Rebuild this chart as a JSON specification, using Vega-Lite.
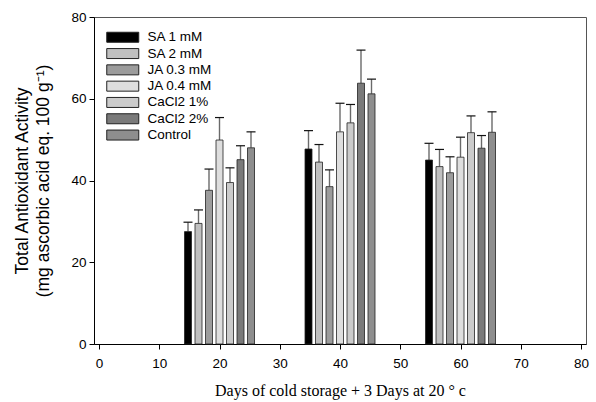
{
  "$schema": "https://vega.github.io/schema/vega-lite/v6.json",
  "width": 492,
  "height": 327,
  "autosize": "none",
  "padding": {"left": 94, "top": 17, "right": 10, "bottom": 58},
  "background": "white",
  "config": {
    "view": {"stroke": "#555", "strokeWidth": 1},
    "font": "Liberation Sans",
    "axis": {
      "grid": false,
      "domainColor": "#000",
      "tickColor": "#000",
      "tickSize": 5,
      "labelFont": "Liberation Sans",
      "labelFontSize": 13.5,
      "labelColor": "#000",
      "titleColor": "#000",
      "titleFontWeight": "normal"
    }
  },
  "data": {
    "values": [
      {"day": 20, "treatment": "SA 1 mM", "value": 27.5, "upper": 29.8},
      {"day": 20, "treatment": "SA 2 mM", "value": 29.5, "upper": 32.8},
      {"day": 20, "treatment": "JA 0.3 mM", "value": 37.6, "upper": 42.8},
      {"day": 20, "treatment": "JA 0.4 mM", "value": 49.9, "upper": 55.4},
      {"day": 20, "treatment": "CaCl2 1%", "value": 39.5, "upper": 43.1},
      {"day": 20, "treatment": "CaCl2 2%", "value": 45.1, "upper": 48.5},
      {"day": 20, "treatment": "Control", "value": 48.0, "upper": 51.9},
      {"day": 40, "treatment": "SA 1 mM", "value": 47.7, "upper": 52.2},
      {"day": 40, "treatment": "SA 2 mM", "value": 44.5, "upper": 48.8},
      {"day": 40, "treatment": "JA 0.3 mM", "value": 38.5, "upper": 42.6},
      {"day": 40, "treatment": "JA 0.4 mM", "value": 51.9, "upper": 58.9},
      {"day": 40, "treatment": "CaCl2 1%", "value": 54.1, "upper": 58.6},
      {"day": 40, "treatment": "CaCl2 2%", "value": 63.8, "upper": 71.9},
      {"day": 40, "treatment": "Control", "value": 61.2, "upper": 64.8},
      {"day": 60, "treatment": "SA 1 mM", "value": 45.0, "upper": 49.1},
      {"day": 60, "treatment": "SA 2 mM", "value": 43.4, "upper": 47.6},
      {"day": 60, "treatment": "JA 0.3 mM", "value": 41.9, "upper": 45.8},
      {"day": 60, "treatment": "JA 0.4 mM", "value": 45.7, "upper": 50.6},
      {"day": 60, "treatment": "CaCl2 1%", "value": 51.7, "upper": 55.8},
      {"day": 60, "treatment": "CaCl2 2%", "value": 47.9, "upper": 51.0},
      {"day": 60, "treatment": "Control", "value": 51.8, "upper": 56.8}
    ]
  },
  "encoding": {
    "x": {
      "field": "day",
      "type": "quantitative",
      "scale": {"domain": [0, 80], "nice": false},
      "axis": {
        "values": [0, 10, 20, 30, 40, 50, 60, 70, 80],
        "title": "Days of cold storage + 3 Days at 20 ° c",
        "titleFont": "Liberation Serif",
        "titleFontSize": 16,
        "titlePadding": 13,
        "labelPadding": 7
      }
    },
    "y": {
      "field": "value",
      "type": "quantitative",
      "scale": {"domain": [0, 80], "nice": false},
      "axis": {
        "values": [0, 20, 40, 60, 80],
        "title": ["Total Antioxidant Activity", "(mg ascorbic acid eq. 100 g⁻¹)"],
        "titleFont": "Liberation Sans",
        "titleFontSize": 17.5,
        "titlePadding": 18,
        "titleLineHeight": 21,
        "labelPadding": 3
      }
    },
    "fill": {
      "field": "treatment",
      "type": "nominal",
      "scale": {
        "domain": ["SA 1 mM", "SA 2 mM", "JA 0.3 mM", "JA 0.4 mM", "CaCl2 1%", "CaCl2 2%", "Control"],
        "range": ["#000000", "#c0c0c0", "#9c9c9c", "#dedede", "#cbcbcb", "#7a7a7a", "#8e8e8e"]
      },
      "legend": {
        "title": null,
        "orient": "none",
        "legendX": 22,
        "legendY": 13.5,
        "symbolType": "M-3.2,-1H3.2V1H-3.2Z",
        "symbolSize": 100,
        "symbolStrokeColor": "#222",
        "symbolStrokeWidth": 1,
        "symbolOpacity": 1,
        "labelFont": "Liberation Sans",
        "labelFontSize": 13.5,
        "labelColor": "#000",
        "labelOffset": 18,
        "rowPadding": 1.3
      }
    }
  },
  "layer": [
    {
      "transform": [{"filter": "datum.treatment === 'SA 1 mM'"}],
      "layer": [
        {"mark": {"type": "rule", "xOffset": -31.5, "stroke": "#6a6a6a", "strokeWidth": 1.4}, "encoding": {"y2": {"field": "upper"}}},
        {"mark": {"type": "tick", "xOffset": -31.5, "orient": "horizontal", "size": 9, "thickness": 1.2, "opacity": 1}, "encoding": {"y": {"field": "upper", "type": "quantitative"}, "fill": {"value": "#111"}}},
        {"mark": {"type": "bar", "xOffset": -31.5, "width": 7, "stroke": "#222", "strokeWidth": 0.8}}
      ]
    },
    {
      "transform": [{"filter": "datum.treatment === 'SA 2 mM'"}],
      "layer": [
        {"mark": {"type": "rule", "xOffset": -21, "stroke": "#6a6a6a", "strokeWidth": 1.4}, "encoding": {"y2": {"field": "upper"}}},
        {"mark": {"type": "tick", "xOffset": -21, "orient": "horizontal", "size": 9, "thickness": 1.2, "opacity": 1}, "encoding": {"y": {"field": "upper", "type": "quantitative"}, "fill": {"value": "#111"}}},
        {"mark": {"type": "bar", "xOffset": -21, "width": 7, "stroke": "#222", "strokeWidth": 0.8}}
      ]
    },
    {
      "transform": [{"filter": "datum.treatment === 'JA 0.3 mM'"}],
      "layer": [
        {"mark": {"type": "rule", "xOffset": -10.5, "stroke": "#6a6a6a", "strokeWidth": 1.4}, "encoding": {"y2": {"field": "upper"}}},
        {"mark": {"type": "tick", "xOffset": -10.5, "orient": "horizontal", "size": 9, "thickness": 1.2, "opacity": 1}, "encoding": {"y": {"field": "upper", "type": "quantitative"}, "fill": {"value": "#111"}}},
        {"mark": {"type": "bar", "xOffset": -10.5, "width": 7, "stroke": "#222", "strokeWidth": 0.8}}
      ]
    },
    {
      "transform": [{"filter": "datum.treatment === 'JA 0.4 mM'"}],
      "layer": [
        {"mark": {"type": "rule", "xOffset": 0, "stroke": "#6a6a6a", "strokeWidth": 1.4}, "encoding": {"y2": {"field": "upper"}}},
        {"mark": {"type": "tick", "xOffset": 0, "orient": "horizontal", "size": 9, "thickness": 1.2, "opacity": 1}, "encoding": {"y": {"field": "upper", "type": "quantitative"}, "fill": {"value": "#111"}}},
        {"mark": {"type": "bar", "xOffset": 0, "width": 7, "stroke": "#222", "strokeWidth": 0.8}}
      ]
    },
    {
      "transform": [{"filter": "datum.treatment === 'CaCl2 1%'"}],
      "layer": [
        {"mark": {"type": "rule", "xOffset": 10.5, "stroke": "#6a6a6a", "strokeWidth": 1.4}, "encoding": {"y2": {"field": "upper"}}},
        {"mark": {"type": "tick", "xOffset": 10.5, "orient": "horizontal", "size": 9, "thickness": 1.2, "opacity": 1}, "encoding": {"y": {"field": "upper", "type": "quantitative"}, "fill": {"value": "#111"}}},
        {"mark": {"type": "bar", "xOffset": 10.5, "width": 7, "stroke": "#222", "strokeWidth": 0.8}}
      ]
    },
    {
      "transform": [{"filter": "datum.treatment === 'CaCl2 2%'"}],
      "layer": [
        {"mark": {"type": "rule", "xOffset": 21, "stroke": "#6a6a6a", "strokeWidth": 1.4}, "encoding": {"y2": {"field": "upper"}}},
        {"mark": {"type": "tick", "xOffset": 21, "orient": "horizontal", "size": 9, "thickness": 1.2, "opacity": 1}, "encoding": {"y": {"field": "upper", "type": "quantitative"}, "fill": {"value": "#111"}}},
        {"mark": {"type": "bar", "xOffset": 21, "width": 7, "stroke": "#222", "strokeWidth": 0.8}}
      ]
    },
    {
      "transform": [{"filter": "datum.treatment === 'Control'"}],
      "layer": [
        {"mark": {"type": "rule", "xOffset": 31.5, "stroke": "#6a6a6a", "strokeWidth": 1.4}, "encoding": {"y2": {"field": "upper"}}},
        {"mark": {"type": "tick", "xOffset": 31.5, "orient": "horizontal", "size": 9, "thickness": 1.2, "opacity": 1}, "encoding": {"y": {"field": "upper", "type": "quantitative"}, "fill": {"value": "#111"}}},
        {"mark": {"type": "bar", "xOffset": 31.5, "width": 7, "stroke": "#222", "strokeWidth": 0.8}}
      ]
    }
  ]
}
